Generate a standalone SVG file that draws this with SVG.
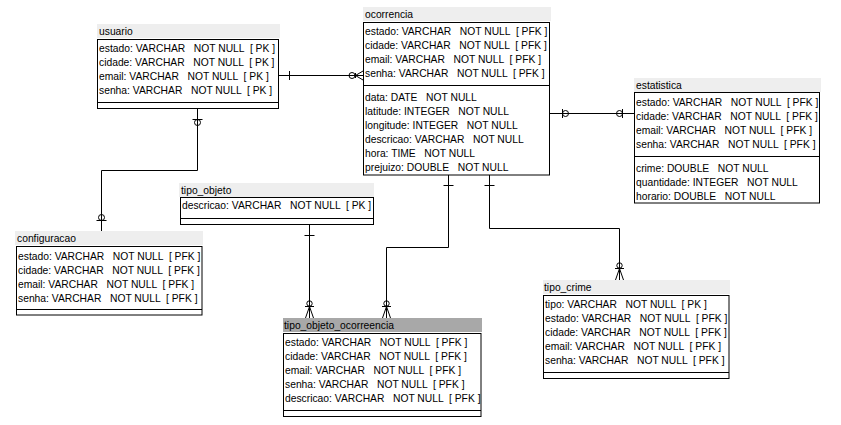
<svg xmlns="http://www.w3.org/2000/svg" width="841" height="425" viewBox="0 0 841 425" xml:space="preserve">
<style>
.bg{fill:#ffffff}
.band{fill:#eeeeee}
.bandsel{fill:#a8a8a8}
.box{fill:#ffffff;stroke:#000000;stroke-width:1}
.sep{stroke:#000000;stroke-width:1}
.t{font-family:"Liberation Sans",Arial,sans-serif;font-size:10.3px;fill:#000000;white-space:pre}
.ln{stroke:#000000;stroke-width:1;fill:none}
</style>
<rect class="bg" x="0" y="0" width="841" height="425"/>

<g id="connectors">
  <!-- usuario - ocorrencia -->
  <path class="ln" d="M279,75.5 H363"/>
  <path class="ln" d="M289.5,71 V80"/>
  <circle class="ln" cx="352" cy="75.5" r="3"/>
  <path class="ln" d="M355.5,73 V78 M355.5,75.5 L363,71 M355.5,75.5 L363,80"/>
  <!-- ocorrencia - estatistica -->
  <path class="ln" d="M550,113.5 H634"/>
  <path class="ln" d="M562.5,109 V118"/>
  <circle class="ln" cx="565.5" cy="113.5" r="3"/>
  <path class="ln" d="M622.5,109 V118"/>
  <circle class="ln" cx="619.5" cy="113.5" r="3"/>
  <!-- usuario - configuracao -->
  <path class="ln" d="M197.5,108.5 V170.5 H101.5 V231"/>
  <path class="ln" d="M192.5,119.5 H202.5"/>
  <circle class="ln" cx="197.5" cy="122.5" r="3"/>
  <path class="ln" d="M96.5,220.5 H106.5"/>
  <circle class="ln" cx="101.5" cy="217.5" r="3"/>
  <!-- tipo_objeto - tipo_objeto_ocorrencia -->
  <path class="ln" d="M309.5,224.5 V318"/>
  <path class="ln" d="M304.5,235.5 H314.5"/>
  <circle class="ln" cx="309.5" cy="303.5" r="2.7"/>
  <path class="ln" d="M305,306.5 H314 M309.5,306.5 L305.5,318 M309.5,306.5 L313.5,318"/>
  <!-- ocorrencia - tipo_objeto_ocorrencia -->
  <path class="ln" d="M448.5,175 V247.5 H386.5 V318"/>
  <path class="ln" d="M443.5,185.5 H453.5"/>
  <circle class="ln" cx="386.5" cy="303.5" r="2.7"/>
  <path class="ln" d="M382,306.5 H391 M386.5,306.5 L382.5,318 M386.5,306.5 L390.5,318"/>
  <!-- ocorrencia - tipo_crime -->
  <path class="ln" d="M489.5,175 V228.5 H619.5 V280"/>
  <path class="ln" d="M484.5,185.5 H494.5"/>
  <circle class="ln" cx="619.5" cy="265.5" r="2.7"/>
  <path class="ln" d="M615,268.5 H624 M619.5,268.5 L615.5,280 M619.5,268.5 L623.5,280"/>
</g>

<g id="usuario">
  <rect class="band" x="97" y="24" width="183" height="14"/>
  <text class="t" x="99" y="35">usuario</text>
  <rect class="box" x="97.5" y="39.5" width="181" height="69"/>
  <line class="sep" x1="97.5" y1="102.5" x2="278.5" y2="102.5"/>
  <text class="t" x="99" y="52">estado: VARCHAR   NOT NULL  [ PK ]</text>
  <text class="t" x="99" y="66">cidade: VARCHAR   NOT NULL  [ PK ]</text>
  <text class="t" x="99" y="80">email: VARCHAR   NOT NULL  [ PK ]</text>
  <text class="t" x="99" y="94">senha: VARCHAR   NOT NULL  [ PK ]</text>
</g>

<g id="ocorrencia">
  <rect class="band" x="363" y="7" width="188" height="14"/>
  <text class="t" x="365" y="18">ocorrencia</text>
  <rect class="box" x="363.5" y="22.5" width="186" height="152.5"/>
  <line class="sep" x1="363.5" y1="85.5" x2="549.5" y2="85.5"/>
  <text class="t" x="365" y="35">estado: VARCHAR   NOT NULL  [ PFK ]</text>
  <text class="t" x="365" y="49">cidade: VARCHAR   NOT NULL  [ PFK ]</text>
  <text class="t" x="365" y="63">email: VARCHAR   NOT NULL  [ PFK ]</text>
  <text class="t" x="365" y="77">senha: VARCHAR   NOT NULL  [ PFK ]</text>
  <text class="t" x="365" y="101">data: DATE   NOT NULL</text>
  <text class="t" x="365" y="115">latitude: INTEGER   NOT NULL</text>
  <text class="t" x="365" y="129">longitude: INTEGER   NOT NULL</text>
  <text class="t" x="365" y="143">descricao: VARCHAR   NOT NULL</text>
  <text class="t" x="365" y="157">hora: TIME   NOT NULL</text>
  <text class="t" x="365" y="171">prejuizo: DOUBLE   NOT NULL</text>
</g>

<g id="estatistica">
  <rect class="band" x="634" y="78" width="187" height="14"/>
  <text class="t" x="636" y="89">estatistica</text>
  <rect class="box" x="634.5" y="92.5" width="185" height="110.5"/>
  <line class="sep" x1="634.5" y1="156.5" x2="819.5" y2="156.5"/>
  <text class="t" x="636" y="106">estado: VARCHAR   NOT NULL  [ PFK ]</text>
  <text class="t" x="636" y="120">cidade: VARCHAR   NOT NULL  [ PFK ]</text>
  <text class="t" x="636" y="134">email: VARCHAR   NOT NULL  [ PFK ]</text>
  <text class="t" x="636" y="148">senha: VARCHAR   NOT NULL  [ PFK ]</text>
  <text class="t" x="636" y="172">crime: DOUBLE   NOT NULL</text>
  <text class="t" x="636" y="186">quantidade: INTEGER   NOT NULL</text>
  <text class="t" x="636" y="200">horario: DOUBLE   NOT NULL</text>
</g>

<g id="configuracao">
  <rect class="band" x="15" y="231" width="188" height="14"/>
  <text class="t" x="17" y="242">configuracao</text>
  <rect class="box" x="16.5" y="246.5" width="185.5" height="68.5"/>
  <line class="sep" x1="16.5" y1="309.5" x2="202" y2="309.5"/>
  <text class="t" x="18" y="260">estado: VARCHAR   NOT NULL  [ PFK ]</text>
  <text class="t" x="18" y="274">cidade: VARCHAR   NOT NULL  [ PFK ]</text>
  <text class="t" x="18" y="288">email: VARCHAR   NOT NULL  [ PFK ]</text>
  <text class="t" x="18" y="302">senha: VARCHAR   NOT NULL  [ PFK ]</text>
</g>

<g id="tipo_objeto">
  <rect class="band" x="179" y="183" width="195" height="14"/>
  <text class="t" x="181" y="194">tipo_objeto</text>
  <rect class="box" x="180.5" y="197.5" width="193" height="27"/>
  <line class="sep" x1="180.5" y1="218.5" x2="373.5" y2="218.5"/>
  <text class="t" x="182" y="209">descricao: VARCHAR   NOT NULL  [ PK ]</text>
</g>

<g id="tipo_objeto_ocorrencia">
  <rect class="bandsel" x="283" y="318" width="199" height="14"/>
  <text class="t" x="284" y="329">tipo_objeto_ocorreencia</text>
  <rect class="box" x="283.5" y="333.5" width="197.5" height="83"/>
  <line class="sep" x1="283.5" y1="410.5" x2="481" y2="410.5"/>
  <text class="t" x="285" y="346">estado: VARCHAR   NOT NULL  [ PFK ]</text>
  <text class="t" x="285" y="360">cidade: VARCHAR   NOT NULL  [ PFK ]</text>
  <text class="t" x="285" y="374">email: VARCHAR   NOT NULL  [ PFK ]</text>
  <text class="t" x="285" y="388">senha: VARCHAR   NOT NULL  [ PFK ]</text>
  <text class="t" x="285" y="402">descricao: VARCHAR   NOT NULL  [ PFK ]</text>
</g>

<g id="tipo_crime">
  <rect class="band" x="543" y="280" width="187" height="14"/>
  <text class="t" x="544" y="291">tipo_crime</text>
  <rect class="box" x="543.5" y="295.5" width="185.5" height="83"/>
  <line class="sep" x1="543.5" y1="372.5" x2="729" y2="372.5"/>
  <text class="t" x="545" y="308">tipo: VARCHAR   NOT NULL  [ PK ]</text>
  <text class="t" x="545" y="322">estado: VARCHAR   NOT NULL  [ PFK ]</text>
  <text class="t" x="545" y="336">cidade: VARCHAR   NOT NULL  [ PFK ]</text>
  <text class="t" x="545" y="350">email: VARCHAR   NOT NULL  [ PFK ]</text>
  <text class="t" x="545" y="364">senha: VARCHAR   NOT NULL  [ PFK ]</text>
</g>
</svg>
